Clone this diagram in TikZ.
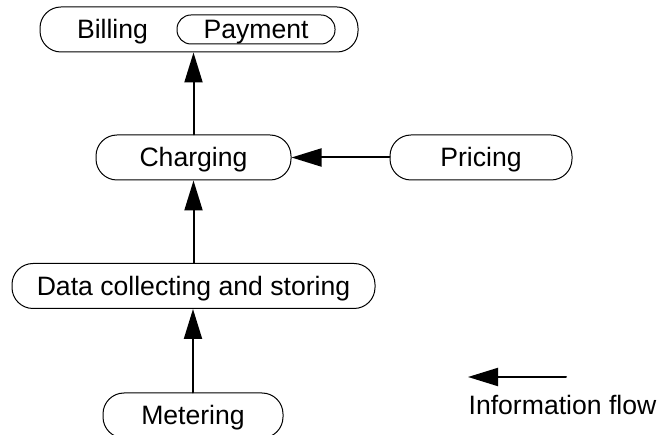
\documentclass[tikz,border=0pt]{standalone}
\usepackage{fontspec}
\setmainfont{Liberation Sans}
\usetikzlibrary{arrows.meta}

\begin{document}
\begin{tikzpicture}[x=1pt,y=-1pt,line cap=round,line join=round,
  every node/.style={inner sep=0pt,font=\fontsize{26.6}{30}\selectfont,text height=19pt,text depth=0pt},
  blk/.style={draw,line width=1pt,rounded corners=21pt,minimum height=45pt},
  flow/.style={line width=2pt,-{Triangle[length=30pt,width=18pt]}}]
  \useasboundingbox (0,0) rectangle (659,435);
  % outer billing box with payment inside
  \node[blk,minimum width=318pt] (billing) at (199,29.5) {};
  \node (billtxt) at (112.5,29.5) {Billing};
  \node[blk,rounded corners=14pt,minimum width=158pt,minimum height=29pt] (payment) at (256,29.5) {Payment};
  \node[blk,minimum width=195pt] (charging) at (193.5,157.5) {Charging};
  \node[blk,minimum width=182pt] (pricing) at (481,157.5) {Pricing};
  \node[blk,minimum width=363pt] (data) at (193.5,286) {Data collecting and storing};
  \node[blk,minimum width=180pt] (metering) at (193,415.5) {Metering};
  \draw[flow] (metering.north) -- (metering.north |- data.south);
  \draw[flow] (data.north) -- (data.north |- charging.south);
  \draw[flow] (charging.north) -- (charging.north |- billing.south);
  \draw[flow] (pricing.west) -- (charging.east);
  % legend
  \coordinate (L1) at (566,377);
  \coordinate (L2) at (468,377);
  \draw[flow] (L1) -- (L2);
  \node (legend) at (562.5,405.5) {Information flow};
\end{tikzpicture}
\end{document}
